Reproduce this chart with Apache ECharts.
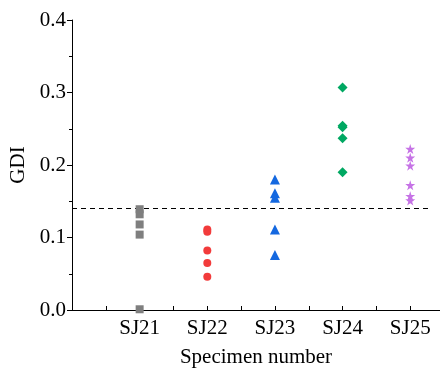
<!DOCTYPE html>
<html><head><meta charset="utf-8">
<script src="https://cdn.jsdelivr.net/npm/echarts@6/dist/echarts.min.js"></script>
<style>html,body{margin:0;padding:0;background:#fff}#c{width:440px;height:374px}</style>
</head><body><div id="c"></div>
<script>
const categories = ['SJ21', 'SJ22', 'SJ23', 'SJ24', 'SJ25'];
const sj21 = [0.139, 0.132, 0.118, 0.104, 0.001];
const sj22 = [0.111, 0.108, 0.082, 0.065, 0.046];
const sj23 = [0.180, 0.161, 0.155, 0.111, 0.076];
const sj24 = [0.307, 0.254, 0.252, 0.237, 0.190];
const sj25 = [0.222, 0.210, 0.199, 0.172, 0.157, 0.151];
const thresholdY = 0.14;
const yTicks = [0.0, 0.1, 0.2, 0.3, 0.4];

const star = 'path://M50,0 L61.8,36.2 L100,36.2 L69.1,58.8 L80.9,95.1 L50,72.7 L19.1,95.1 L30.9,58.8 L0,36.2 L38.2,36.2 Z';
const font = 'Liberation Serif';
function pts(arr, idx) { return arr.map(v => [idx + 1, v]); }
const groups = [
  {data: sj21, symbol: 'rect', size: 8, color: '#7f7f7f'},
  {data: sj22, symbol: 'circle', size: 8, color: '#f23b3b'},
  {data: sj23, symbol: 'triangle', size: 10, color: '#1468e0'},
  {data: sj24, symbol: 'diamond', size: 10, color: '#00a862'},
  {data: sj25, symbol: star, size: 10, color: '#c673e6'}
];
const series = groups.map((g, i) => ({
  type: 'scatter', data: pts(g.data, i), symbol: g.symbol, symbolSize: g.size,
  itemStyle: {color: g.color, opacity: 1}, z: 3
}));
series.push({
  type: 'line', data: [[0, thresholdY], [5.3, thresholdY]], symbol: 'none',
  lineStyle: {color: '#000', width: 1, type: [5, 4]}, z: 2, silent: true
});
const chart = echarts.init(document.getElementById('c'));
chart.setOption({
  animation: false,
  grid: {left: 72, right: 0, top: 20, bottom: 64, containLabel: false, outerBoundsMode: 'none'},
  xAxis: {
    type: 'value', min: 0, max: 5.44, interval: 0.5,
    axisLine: {lineStyle: {color: '#000', width: 1}},
    axisTick: {inside: true, length: 4, lineStyle: {color: '#000'}},
    splitLine: {show: false},
    axisLabel: {
      color: '#000', fontFamily: font, fontSize: 21, margin: 8,
      formatter: v => (Math.abs(v - Math.round(v)) < 1e-6 && v >= 1 && v <= 5) ? categories[Math.round(v) - 1] : '',
      showMaxLabel: false
    },
    name: 'Specimen number', nameLocation: 'middle', nameGap: 37,
    nameTextStyle: {color: '#000', fontFamily: font, fontSize: 21}
  },
  yAxis: {
    type: 'value', min: yTicks[0], max: yTicks[yTicks.length - 1], interval: 0.1,
    axisLine: {show: true, lineStyle: {color: '#000', width: 1}},
    axisTick: {show: true, inside: false, length: 5, lineStyle: {color: '#000'}},
    minorTick: {show: true, splitNumber: 2, length: 3, lineStyle: {color: '#000'}},
    splitLine: {show: false},
    axisLabel: {color: '#000', fontFamily: font, fontSize: 21, margin: 6, formatter: v => v.toFixed(1)},
    name: 'GDI', nameLocation: 'middle', nameGap: 40,
    nameTextStyle: {color: '#000', fontFamily: font, fontSize: 21}
  },
  series: series
});
</script></body></html>
